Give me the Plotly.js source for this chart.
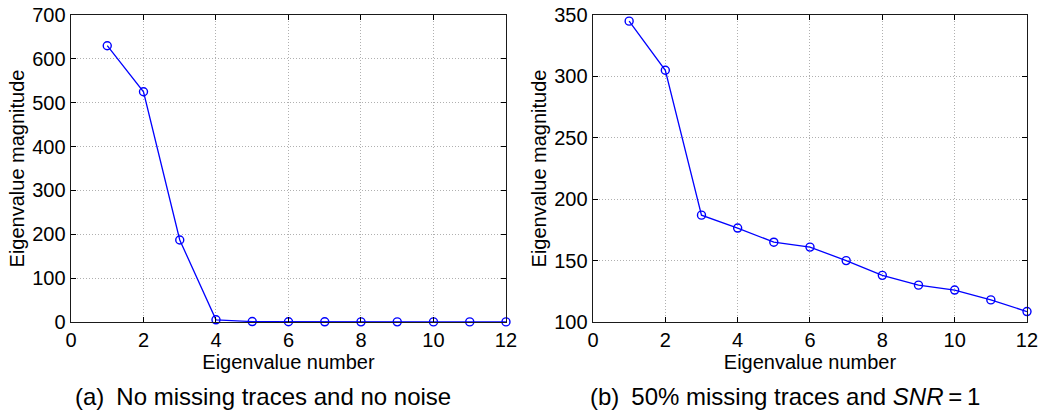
<!DOCTYPE html>
<html>
<head>
<meta charset="utf-8">
<script src="https://cdn.plot.ly/plotly-3.0.1.min.js"></script>
<style>html,body{margin:0;padding:0;background:#fff;}#chart{width:1042px;height:412px;}</style>
</head>
<body>
<div id="chart"></div>
<script>
// Eigenvalue index
const eigenNumber = [1, 2, 3, 4, 5, 6, 7, 8, 9, 10, 11, 12];
// (a) No missing traces and no noise
const magnitudeA = [630, 525, 187, 5, 1, 0.5, 0.4, 0.3, 0.3, 0.2, 0.2, 0.2];
// (b) 50% missing traces and SNR = 1
const magnitudeB = [345, 305, 187, 176.5, 165, 161, 150, 138, 130, 126, 118, 108.5];

const xTickVals = [0, 2, 4, 6, 8, 10, 12];
const yTickValsA = [0, 100, 200, 300, 400, 500, 600, 700];
const yTickValsB = [100, 150, 200, 250, 300, 350];

const captionA = "(a)\u2002No missing traces and no noise";
const captionB = "(b)\u200250% missing traces and <i>SNR</i>\u2009=\u20091";
const xTitle = "Eigenvalue number";
const yTitle = "Eigenvalue magnitude";

const FONT = "Liberation Sans, Arial, Helvetica, sans-serif";
const blue = "#0000ff";

function trace(y, xa, ya) {
  return {
    x: eigenNumber, y: y, xaxis: xa, yaxis: ya,
    type: "scatter", mode: "lines+markers",
    line: {color: blue, width: 1.3},
    marker: {symbol: "circle-open", size: 8, color: blue, line: {color: blue, width: 1.4}},
    cliponaxis: false, showlegend: false, hoverinfo: "x+y"
  };
}

function xAxis(domain, anchor) {
  return {
    domain: domain, anchor: anchor, range: [0, 12],
    tickvals: xTickVals, ticktext: xTickVals.map(String),
    ticks: "inside", ticklen: 5, tickcolor: "#000", tickwidth: 1,
    showline: true, linecolor: "#1a1a1a", linewidth: 1.4, mirror: "ticks",
    showgrid: true, gridcolor: "#b0b0b0", griddash: "1px,2px", gridwidth: 1,
    zeroline: false,
    tickfont: {family: FONT, size: 20, color: "#000"},
    title: {text: xTitle, font: {family: FONT, size: 20, color: "#000"}, standoff: 0},
    automargin: false
  };
}

function yAxis(domain, anchor, range, vals) {
  return {
    domain: domain, anchor: anchor, range: range,
    tickvals: vals, ticktext: vals.map(String),
    ticks: "inside", ticklen: 5, tickcolor: "#000", tickwidth: 1,
    showline: true, linecolor: "#1a1a1a", linewidth: 1.4, mirror: "ticks",
    showgrid: true, gridcolor: "#b0b0b0", griddash: "1px,2px", gridwidth: 1,
    zeroline: false,
    tickfont: {family: FONT, size: 20, color: "#000"},
    title: {text: yTitle, font: {family: FONT, size: 20, color: "#000"}, standoff: 2},
    automargin: false
  };
}

const data = [
  trace(magnitudeA, "x", "y"),
  trace(magnitudeB, "x2", "y2")
];

const layout = {
  width: 1042, height: 412,
  margin: {l: 71, r: 15, t: 15, b: 90},
  paper_bgcolor: "#fff", plot_bgcolor: "#fff",
  font: {family: FONT, size: 20, color: "#000"},
  xaxis: xAxis([0, 0.455], "y"),
  yaxis: yAxis([0, 1], "x", [0, 700], yTickValsA),
  xaxis2: xAxis([0.546, 1], "y2"),
  yaxis2: yAxis([0, 1], "x2", [100, 350], yTickValsB),
  annotations: [
    {text: captionA, xref: "paper", yref: "paper", x: 0.2008, y: -0.244,
     xanchor: "center", yanchor: "middle", showarrow: false,
     font: {family: FONT, size: 24, color: "#000"}},
    {text: captionB, xref: "paper", yref: "paper", x: 0.747, y: -0.244,
     xanchor: "center", yanchor: "middle", showarrow: false,
     font: {family: FONT, size: 24, color: "#000"}}
  ]
};

Plotly.newPlot("chart", data, layout, {staticPlot: true, displayModeBar: false});
</script>
</body>
</html>
